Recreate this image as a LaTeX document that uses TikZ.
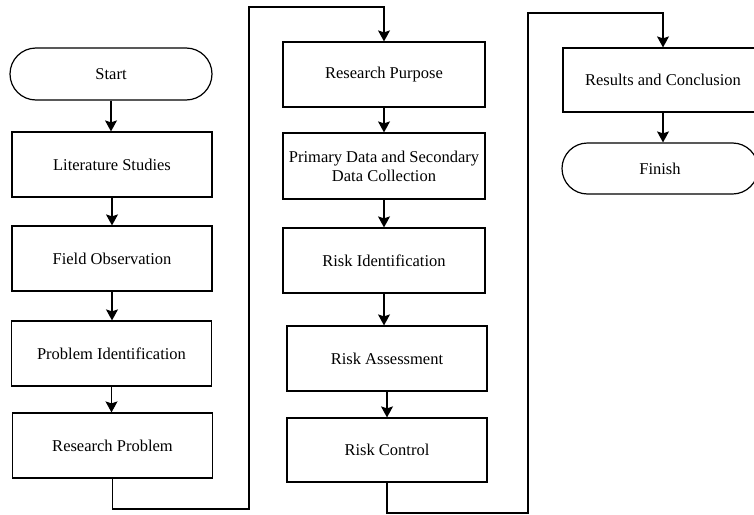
\documentclass[tikz,border=0pt]{standalone}
\usepackage{fontspec}
\setmainfont{Liberation Serif}
\usetikzlibrary{shapes.misc,arrows.meta}
\begin{document}
\begin{tikzpicture}[x=1pt,y=-1pt,
  box/.style={draw,line width=1.2pt,rectangle,minimum width=200pt,minimum height=65pt,inner sep=0pt,align=center,font=\fontsize{16.5}{19}\selectfont},
  term/.style={draw,line width=1.2pt,rounded rectangle,minimum width=202pt,minimum height=52pt,inner sep=0pt,font=\fontsize{16.5}{19}\selectfont},
  arr/.style={line width=1.2pt,-{Stealth[width=12pt,length=11pt,inset=2pt]}},
  ln/.style={line width=1.2pt}]
\useasboundingbox (0,0) rectangle (754,514);
\clip (0,0) rectangle (754,514);
% left column
\node[term] (start) at (111,74) {Start};
\node[box] (lit) at (112,164.5) {Literature Studies};
\node[box] (field) at (112,258.5) {Field Observation};
\node[box] (probid) at (111.5,353.5) {Problem Identification};
\node[box] (resprob) at (112.5,445.5) {Research Problem};
% middle column
\node[box,minimum width=202pt] (respurp) at (384,74.5) {Research Purpose};
\node[box,minimum width=202pt,minimum height=66pt] (data) at (384,166) {Primary Data and Secondary\\Data Collection};
\node[box,minimum width=202pt] (riskid) at (384,260.5) {Risk Identification};
\node[box] (riskass) at (387,358.5) {Risk Assessment};
\node[box,minimum height=64pt] (riskctl) at (387,450) {Risk Control};
% right column
\node[box,minimum height=64pt] (results) at (663,80) {Results and Conclusion};
\node[term,minimum width=196pt,minimum height=51pt] (finish) at (660,168.5) {Finish};
% arrows
\draw[arr] (start.south) -- (start.south |- lit.north);
\draw[arr] (lit.south) -- (lit.south |- field.north);
\draw[arr] (field.south) -- (field.south |- probid.north);
\draw[arr] (probid.south) -- (probid.south |- resprob.north);
\draw[arr] (respurp.south) -- (respurp.south |- data.north);
\draw[arr] (data.south) -- (data.south |- riskid.north);
\draw[arr] (riskid.south) -- (riskid.south |- riskass.north);
\draw[arr] (riskass.south) -- (riskass.south |- riskctl.north);
\draw[arr] (results.south) -- (results.south |- finish.north);
% long connectors
\coordinate (c1) at (249,509);
\coordinate (c2) at (249,7);
\coordinate (c3) at (528,513);
\coordinate (c4) at (528,13);
\draw[arr] (resprob.south) |- (c1) -- (c2) -| (respurp.north);
\draw[arr] (riskctl.south) |- (c3) -- (c4) -| (results.north);
\end{tikzpicture}
\end{document}
